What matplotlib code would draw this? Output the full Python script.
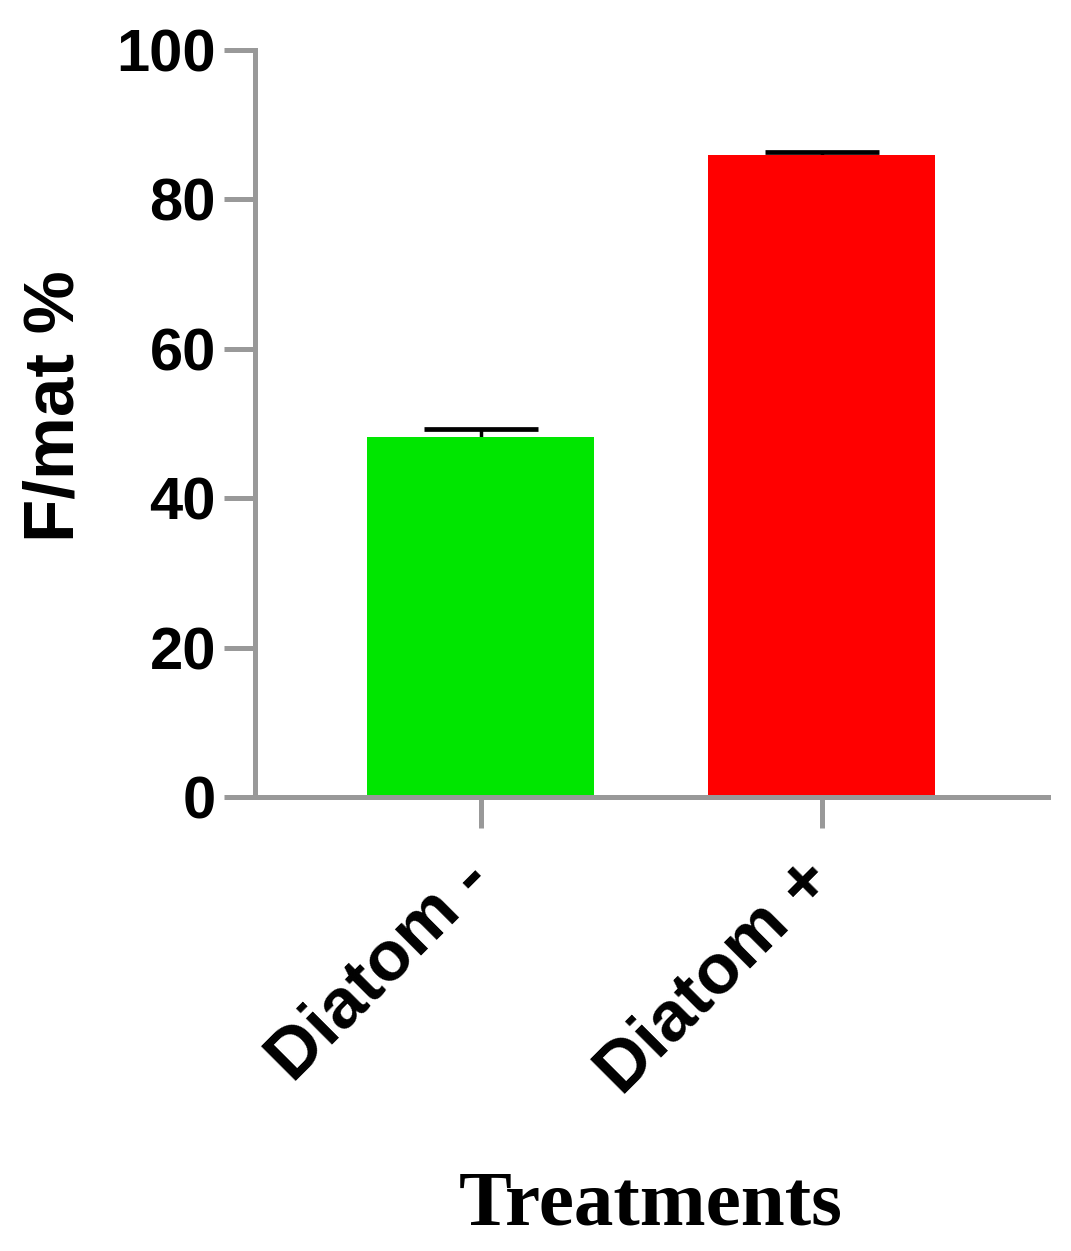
import matplotlib.pyplot as plt

treatments = ["Diatom -", "Diatom +"]
fmat_pct = [48.2, 85.9]
fmat_err = [1.1, 0.4]
bar_colors = ["#00e600", "#ff0000"]
y_ticks = [0, 20, 40, 60, 80, 100]

axis_gray = "#999999"

fig = plt.figure(figsize=(10.71, 12.51), dpi=100)
ax = fig.add_axes([0.238, 0.3629, 0.7405, 0.5971])

pos = list(range(len(treatments)))
# error bars sit under the bars so only the upper half shows
ax.errorbar(pos, fmat_pct, yerr=fmat_err, fmt="none",
            ecolor="black", elinewidth=2.5, capsize=41, capthick=3.4, zorder=1)
ax.bar(pos, fmat_pct, width=0.666, color=bar_colors, zorder=2)

ax.set_xlim(-0.663, 1.663)
ax.set_ylim(0, 100)
ax.set_yticks(y_ticks)
ax.set_xticks(pos)
ax.set_xticklabels(treatments, rotation=45, ha="right", va="center",
                   rotation_mode="anchor",
                   fontsize=51, fontweight="bold", family="Liberation Sans")
for lab in ax.get_yticklabels():
    lab.set_fontsize(43)
    lab.set_fontweight("bold")
    lab.set_family("Liberation Sans")

for side in ["top", "right"]:
    ax.spines[side].set_visible(False)
for side in ["left", "bottom"]:
    ax.spines[side].set_color(axis_gray)
    ax.spines[side].set_linewidth(3.6)
ax.tick_params(axis="both", color=axis_gray, width=3.6, length=22, pad=6)
ax.tick_params(axis="x", pad=31)

ax.set_ylabel("F/mat %", fontsize=51, fontweight="bold",
              family="Liberation Sans", labelpad=20)
ax.yaxis.label.set_y(0.523)
fig.text(0.608, 0.021, "Treatments", fontsize=57, fontweight="bold",
         family="Liberation Serif", ha="center", va="baseline")

fig.savefig("out.png", dpi=100)
